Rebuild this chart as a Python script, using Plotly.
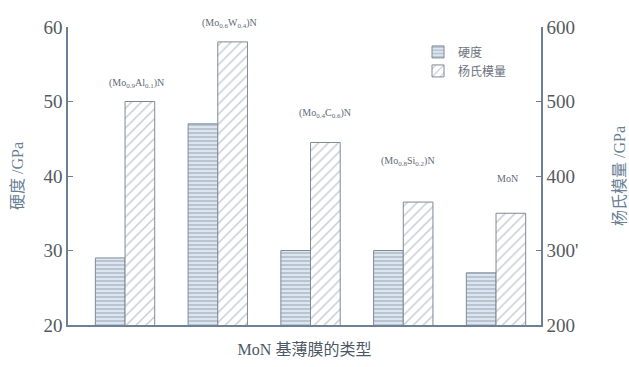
import plotly.graph_objects as go

categories = ["(Mo0.9Al0.1)N", "(Mo0.6W0.4)N", "(Mo0.4C0.6)N", "(Mo0.8Si0.2)N", "MoN"]
labels = ["(Mo<sub>0.9</sub>Al<sub>0.1</sub>)N", "(Mo<sub>0.6</sub>W<sub>0.4</sub>)N",
          "(Mo<sub>0.4</sub>C<sub>0.6</sub>)N", "(Mo<sub>0.8</sub>Si<sub>0.2</sub>)N", "MoN"]
hardness = [29, 47, 30, 30, 27]
modulus = [500, 580, 445, 365, 350]
left_ticks = [20, 30, 40, 50, 60]
right_ticks = [200, 300, 400, 500, 600]
right_ticktext = ["200", "300'", "400", "500", "600"]

x = list(range(len(categories)))
W = 0.32
axis_col = "#6d8095"
txt_col = "#555a60"
font_fam = "Times New Roman, Liberation Serif, Noto Sans CJK SC, serif"

def F(size, color):
    return dict(size=size, color=color, family=font_fam)

fig = go.Figure()
fig.add_trace(go.Bar(
    x=x, y=hardness, name="硬度", yaxis="y", width=W, offset=-W,
    marker=dict(color="#dbe4ee", line=dict(color="#7f8a96", width=1),
                pattern=dict(shape="-", fgcolor="#7f90a5", bgcolor="#dde6ef", size=4, solidity=0.4)),
))
fig.add_trace(go.Bar(
    x=x, y=modulus, name="杨氏模量", yaxis="y2", width=W, offset=0,
    marker=dict(color="white", line=dict(color="#7f8a96", width=1),
                pattern=dict(shape="/", fgcolor="#8a949f", bgcolor="white", size=7, solidity=0.2)),
))

label_dx = [0.12, 0.13, 0.16, 0.05, 0.12]
label_dy = [36, 36, 50, 54, 47]
for i, lab in enumerate(labels):
    fig.add_annotation(x=x[i] + label_dx[i], y=(modulus[i] + label_dy[i] - 200) / 400,
                       xref="x", yref="paper",
                       text=lab, showarrow=False, font=F(10, "#5f6a78"))

fig.update_layout(
    width=629, height=367,
    margin=dict(l=68, r=88, t=27, b=42),
    paper_bgcolor="white", plot_bgcolor="white",
    barmode="overlay",
    font=F(12, txt_col),
    showlegend=True,
    legend=dict(x=0.74, y=0.965, xanchor="left", yanchor="top", bgcolor="rgba(0,0,0,0)",
                font=F(12, "#6a7480"), tracegroupgap=2),
    xaxis=dict(range=[-0.615, 4.485], showline=True, linecolor=axis_col, linewidth=1.5,
               showticklabels=False, ticks="", showgrid=False, zeroline=False, automargin=False,
               title=dict(text="MoN 基薄膜的类型", font=F(16, "#4d5866"), standoff=18)),
    yaxis=dict(range=[20, 60], tickvals=left_ticks, showline=True, linecolor=axis_col, linewidth=1.5,
               ticks="inside", ticklen=5, tickcolor=axis_col, showgrid=False, zeroline=False,
               automargin=False, tickfont=F(19, txt_col),
               title=dict(text="硬度 /GPa", font=F(16, "#6a7f96"), standoff=16)),
    yaxis2=dict(range=[200, 600], tickvals=right_ticks, ticktext=right_ticktext, overlaying="y", side="right",
                showline=True, linecolor=axis_col, linewidth=1.5, ticks="inside", ticklen=5,
                tickcolor=axis_col, showgrid=False, zeroline=False, automargin=False,
                tickfont=F(19, txt_col),
                title=dict(text="杨氏模量 /GPa", font=F(16, "#6a7f96"), standoff=36)),
)

fig.write_html("out.html")
